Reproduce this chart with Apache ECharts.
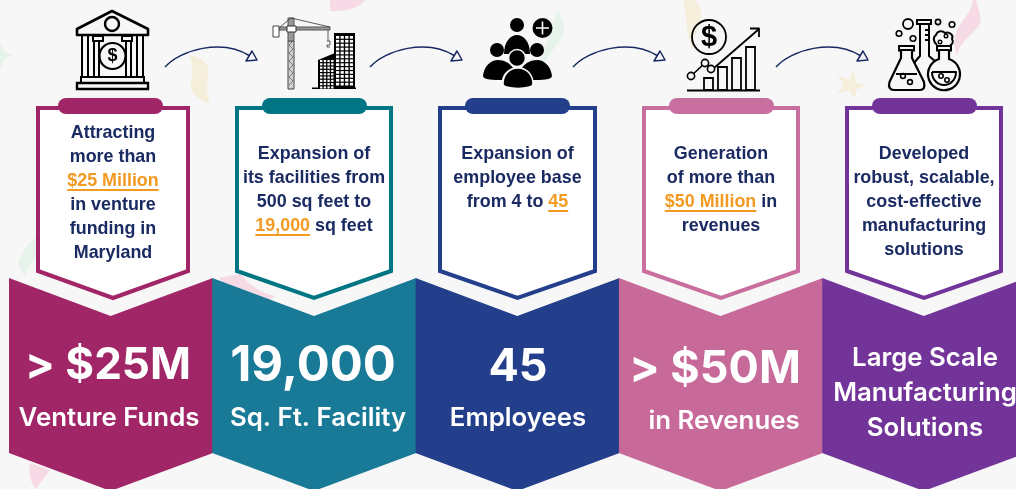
<!DOCTYPE html>
<html>
<head>
<meta charset="utf-8">
<style>
  html, body { margin: 0; padding: 0; background: #f7f7f7; }
  #main { width: 1016px; height: 489px; }
</style>
<script src="https://cdn.jsdelivr.net/npm/echarts@6/dist/echarts.min.js"></script>
</head>
<body>
<div id="main"></div>
<script>
// text content, {..} marks the orange underlined part of a line
var categories = ['funds', 'facility', 'employees', 'revenues', 'manufacturing']
var descriptions = [
  ['Attracting', 'more than', '{$25 Million}', 'in venture', 'funding in', 'Maryland'],
  ['Expansion of', 'its facilities from', '500 sq feet to', '{19,000} sq feet'],
  ['Expansion of', 'employee base', 'from 4 to {45}'],
  ['Generation', 'of more than', '{$50 Million} in', 'revenues'],
  ['Developed', 'robust, scalable,', 'cost-effective', 'manufacturing', 'solutions']
]
var headlines = ['> $25M', '19,000', '45', '> $50M', '']
var captions = [
  ['Venture Funds'],
  ['Sq. Ft. Facility'],
  ['Employees'],
  ['in Revenues'],
  ['Large Scale', 'Manufacturing', 'Solutions']
]

// colours
var chevronColors = ['#a12668', '#187a96', '#233f8b', '#c76a9a', '#73349a']
var boxColors = ['#a12668', '#017584', '#233f8b', '#c96f9f', '#73349a']
var navy = '#1a2a62'
var orange = '#f39a22'

// layout of the boxes
var boxLeft = [36, 235, 438, 642, 845]
var boxRight = [190, 393, 597, 800, 1003]
var pillLeft = [58, 262, 465, 669, 872]
var descTop = [133, 154, 154, 154, 154]
var headX = [108, 313, 518, 715, 0]
var headY = [366, 366, 367, 369, 0]
var headSize = [44, 49, 45, 45, 0]
var capX = [109, 318, 518, 724, 925]
var capY = [[418], [418], [418], [421], [358, 393, 428]]
var arrowOffset = [0, 205, 408, 611]

var descFont = 'bold 17.9px "Liberation Sans"'
var measure = document.createElement('canvas').getContext('2d')

function textWidth(str) {
  measure.font = descFont
  return measure.measureText(str).width
}

// one description line, split in navy and underlined runs
function descLine(line, cx, y) {
  var parts = line.split(/[{}]/)
  var total = textWidth(parts.join(''))
  var x = cx - total / 2
  var out = []
  parts.forEach(function (part, i) {
    if (!part) return
    var w = textWidth(part)
    var hi = i % 2 == 1
    out.push({
      type: 'text',
      style: { text: part, x: x, y: y, fill: hi ? orange : navy, font: descFont, textAlign: 'left', textVerticalAlign: 'middle' }
    })
    if (hi) {
      out.push({ type: 'rect', shape: { x: x, y: y + 8, width: w, height: 2 }, style: { fill: orange } })
    }
    x += w
  })
  return out
}

function strokePath(d, width, fill, color) {
  return {
    type: 'path',
    shape: { pathData: d },
    style: { fill: fill || 'none', stroke: color || '#000', lineWidth: width === undefined ? 2 : width, lineJoin: 'round' }
  }
}
function circle(cx, cy, r, width, fill, color) {
  return {
    type: 'circle',
    shape: { cx: cx, cy: cy, r: r },
    style: { fill: fill || 'none', stroke: color === undefined ? '#000' : color, lineWidth: width === undefined ? 2 : width }
  }
}
function rect(x, y, w, h, fill, lw, color) {
  return {
    type: 'rect',
    shape: { x: x, y: y, width: w, height: h },
    style: { fill: fill || 'none', stroke: lw ? (color || '#000') : null, lineWidth: lw || 0 }
  }
}
function dollar(x, y, size) {
  return {
    type: 'text',
    style: { text: '$', x: x, y: y, fill: '#000', font: 'bold ' + size + 'px "Liberation Sans"', textAlign: 'center', textVerticalAlign: 'middle' }
  }
}

function bankIcon() {
  return [
    strokePath('M112 11 L77 29 V35 H148 V29 Z', 2.6),
    circle(112, 24, 7, 2.4),
    strokePath('M82 35 V77 M88 35 V77 M94 41 V77 M99 41 V77 M126 41 V77 M131 41 V77 M137 35 V77 M143 35 V77', 2),
    rect(93, 36, 10, 5, null, 2),
    rect(122, 36, 10, 5, null, 2),
    rect(81, 77, 63, 6, null, 2),
    rect(77, 83, 71, 6, null, 2.4),
    circle(112.5, 56, 13, 2.2, '#f7f7f7'),
    dollar(112.5, 56, 18)
  ]
}

function craneIcon() {
  var out = [
    rect(288, 41, 6, 48, '#cfcfcf', 1, '#444'),
    rect(288, 18, 6, 23, '#999', 1, '#555'),
    rect(279, 27, 51, 3, '#999', 1, '#555'),
    rect(273, 26, 6, 11, '#fff', 1, '#444'),
    rect(287, 26, 9, 6, '#fff', 1, '#333'),
    strokePath('M280 27 L291 18 L330 27 M328 30 V41', 0.8, null, '#333'),
    strokePath('M327 41 h3 v4 h-3 v2 h3', 0.8, null, '#333'),
    strokePath('M293 41 L289 45 L293 49 L289 53 L293 57 L289 61 L293 65 L289 69 L293 73 L289 77 L293 81 L289 85', 0.7, null, '#555'),
    rect(312, 87.5, 44, 1.6, '#000')
  ]
  // left and right tower with their windows
  out.push({ type: 'path', shape: { pathData: 'M318 88 V60 L335 53 V88 Z' }, style: { fill: '#000' } })
  out.push(rect(334, 33, 21, 56, '#000'))
  for (var r = 0; r < 9; r++) {
    for (var c = 0; c < 4; c++) {
      out.push(rect(320 + c * 3.7, 60 + r * 3.3, 2.4, 2.1, '#fff'))
    }
  }
  for (var r2 = 0; r2 < 13; r2++) {
    for (var c2 = 0; c2 < 4; c2++) {
      out.push(rect(336 + c2 * 4.6, 36 + r2 * 3.9, 3.2, 2.7, '#fff'))
    }
  }
  return out
}

function peopleIcon() {
  return [
    circle(517, 25, 7, 0, '#000', null),
    strokePath('M504 54 C504 41 511 35 517 35 C523 35 530 41 530 54 Z', 0, '#000', '#000'),
    circle(497, 50, 7, 0, '#000', null),
    circle(537, 50, 7, 0, '#000', null),
    strokePath('M483 76 C484 66 491 60 498 60 C504 60 510 63 513 68 C507 70 503 74 502 80 C494 80 483 80 483 76 Z', 0, '#000', '#000'),
    strokePath('M552 76 C551 66 544 60 537 60 C531 60 525 63 522 68 C528 70 532 74 533 80 C541 80 552 80 552 76 Z', 0, '#000', '#000'),
    circle(517, 58, 8.5, 1.6, '#000', '#f7f7f7'),
    strokePath('M503 84 C503 74 510 68 518 68 C526 68 533 74 533 84 C533 90 503 90 503 84 Z', 1.6, '#000', '#f7f7f7'),
    circle(542.5, 28, 10, 0, '#000', null),
    strokePath('M536 28 H549 M542.5 21.5 V34.5', 1.6, null, '#fff')
  ]
}

function growthIcon() {
  return [
    circle(709, 37, 17, 1.8),
    dollar(709, 38, 29),
    strokePath('M714 68 L759 29 M750 28.5 H759 V37', 1.8),
    strokePath('M691 76 L705 63 M705 63 L711 69', 1.6),
    circle(691, 76, 3.6, 1.6, '#f7f7f7'),
    circle(705, 63, 3.6, 1.6, '#f7f7f7'),
    circle(711, 69, 3.6, 1.6, '#f7f7f7'),
    rect(704, 78, 9, 12, null, 1.8),
    rect(718, 67, 9, 23, null, 1.8),
    rect(732, 58, 9, 32, null, 1.8),
    rect(746, 47, 9, 43, null, 1.8),
    strokePath('M687 90.5 H760', 1.8)
  ]
}

function flaskIcon() {
  return [
    // measuring tube behind the flasks
    rect(917, 20, 14, 4, null, 2),
    strokePath('M920 24 V56 L913 64 M929 24 V56 L936 62 M925 30 h4 M925 35 h4 M925 40 h4', 2),
    // left flask
    rect(899, 46, 15, 4.5, null, 2),
    strokePath('M901 50 V58 L889.5 82 C888 87 890 90 894 90 H920 C924 90 925 87 924 82 L912 58 V50 Z', 2.2, '#f7f7f7'),
    strokePath('M896 74 H917', 2),
    circle(903, 76, 2.4, 1.6),
    circle(910, 82, 2.4, 1.6),
    // right flask
    rect(937, 46, 14, 4.5, null, 2),
    strokePath('M939 50 V59 A16 16 0 1 0 949 59 V50 Z', 2.2, '#f7f7f7'),
    strokePath('M932 72 H956 C956 80 950 85 944 85 C938 85 932 80 932 72', 2),
    circle(941, 76, 2.2, 1.6),
    circle(947, 80, 2.2, 1.6),
    // foam and bubbles
    strokePath('M937 45 C933 42 933 37 936 35 C937 31 942 30 945 33 C949 31 954 35 952 39 C954 42 952 45 950 45', 2, '#f7f7f7'),
    circle(940, 42, 1.8, 1.4),
    circle(946, 36, 1.8, 1.4),
    circle(908, 24, 5, 1.8),
    circle(899, 33.5, 2.8, 1.6),
    circle(913, 38.5, 2.8, 1.6),
    circle(938, 22, 2.6, 1.6),
    circle(952, 24.5, 2.8, 1.6)
  ]
}

var iconMakers = [bankIcon, craneIcon, peopleIcon, growthIcon, flaskIcon]

function renderPanel(params, api) {
  var i = api.value(0)
  var center = api.coord([i, 0])[0]
  var half = api.size([1, 0])[0] / 2
  var left = center - half
  var right = center + half + 0.6
  var children = []

  // chevron
  children.push({
    type: 'polygon',
    shape: { points: [[left, 278], [center, 316], [right, 278], [right, 453], [center, 491], [left, 453]] },
    style: { fill: chevronColors[i] }
  })

  // white box with the coloured frame
  var bl = boxLeft[i] + 2
  var br = boxRight[i] - 2
  var bc = (boxLeft[i] + boxRight[i]) / 2
  children.push({
    type: 'polygon',
    shape: { points: [[bl, 108], [br, 108], [br, 271], [bc, 298], [bl, 271]] },
    style: { fill: '#fff', stroke: boxColors[i], lineWidth: 4, lineJoin: 'miter' }
  })
  children.push({
    type: 'rect',
    shape: { x: pillLeft[i], y: 98, width: 105, height: 16, r: 8 },
    style: { fill: boxColors[i] }
  })

  descriptions[i].forEach(function (line, n) {
    children = children.concat(descLine(line, bc, descTop[i] + n * 24))
  })

  if (headlines[i]) {
    children.push({
      type: 'text',
      style: { text: headlines[i], x: headX[i], y: headY[i], fill: '#fff', font: 'bold ' + headSize[i] + 'px Inter', textAlign: 'center', textVerticalAlign: 'middle' }
    })
  }
  captions[i].forEach(function (line, n) {
    children.push({
      type: 'text',
      style: { text: line, x: capX[i], y: capY[i][n], fill: '#fff', font: '600 25.8px Inter', textAlign: 'center', textVerticalAlign: 'middle' }
    })
  })

  children = children.concat(iconMakers[i]())

  if (i < arrowOffset.length) {
    var dx = arrowOffset[i]
    children.push(strokePath('M' + (165 + dx) + ' 67 C' + (180 + dx) + ' 50 ' + (222 + dx) + ' 38 ' + (250 + dx) + ' 56', 1.5, null, navy))
    children.push(strokePath('M' + (246 + dx) + ' 61 L' + (257 + dx) + ' 60 L' + (252 + dx) + ' 51 Z', 1.5, '#f7f7f7', navy))
  }

  return { type: 'group', children: children }
}

// pale confetti behind the panels
function confetti(d, color) {
  return { type: 'path', shape: { pathData: d }, style: { fill: color } }
}
var paleGreen = '#e6f3ea'
var paleYellow = '#f5eedb'
var palePink = '#f6dbe6'

function renderConfetti() {
  return {
    type: 'group',
    children: [
      confetti('M0 43 L4 52 L13 55 L4 59 L0 70 Z', paleGreen),
      confetti('M189 55 C198 57 206 60 208 68 C210 78 204 88 210 104 C200 100 192 94 191 88 C191 76 195 68 189 55 Z', paleYellow),
      confetti('M330 0 H365 C360 8 345 12 330 11 Z', palePink),
      confetti('M558 10 C562 18 564 24 564 32 C560 42 552 50 545 62 L540 62 C546 42 552 26 558 10 Z', paleGreen),
      confetti('M683 0 H695 C702 8 702 14 700 22 C697 32 692 40 693 50 C686 38 688 20 683 0 Z', paleYellow),
      confetti('M973 0 H976 C980 14 982 20 979 26 C972 34 960 42 957 55 C952 44 955 30 962 22 C968 14 972 8 973 0 Z', palePink),
      confetti('M854 70 L856 83 L866 85 L856 90 L855 99 L849 90 L837 94 L844 85 L837 75 L849 80 Z', paleYellow),
      confetti('M36 236 L24 250 L18 262 L24 276 L36 256 Z', paleGreen),
      confetti('M218 278 L240 274 C250 285 262 294 276 296 L266 302 C248 300 232 290 218 278 Z', palePink),
      confetti('M30 463 L50 470 L36 489 C30 482 28 472 30 463 Z', palePink)
    ]
  }
}

var myChart = echarts.init(document.getElementById('main'))
var option = {
  backgroundColor: '#f7f7f7',
  animation: false,
  // the last band runs past the right edge of the picture
  grid: { left: 9, top: 0, right: -9.5, bottom: 0, outerBoundsMode: 'none' },
  xAxis: { type: 'category', data: categories, show: false },
  yAxis: { type: 'value', min: 0, max: 1, show: false },
  series: [
    {
      type: 'custom',
      silent: true,
      clip: false,
      z: 1,
      renderItem: renderConfetti,
      data: [[0]]
    },
    {
      type: 'custom',
      silent: true,
      clip: false,
      z: 2,
      renderItem: renderPanel,
      encode: { x: 0 },
      data: categories.map(function (c, i) { return [i] })
    }
  ]
}
myChart.setOption(option)
</script>
</body>
</html>
